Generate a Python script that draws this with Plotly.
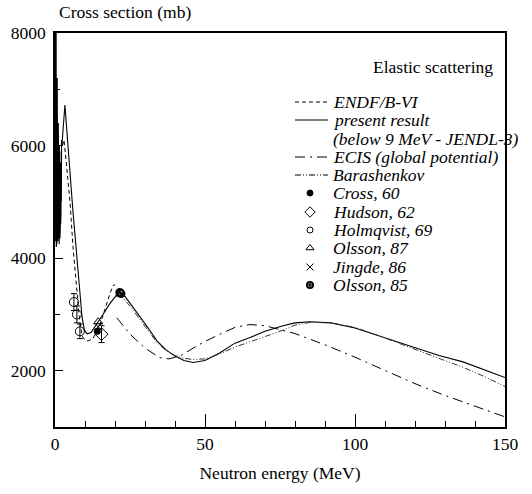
import plotly.graph_objects as go

# ---------------- data ----------------
# present result (JENDL-3 resonance region + smooth part)
res_E = [0.02, 0.08, 0.14, 0.2, 0.26, 0.32, 0.38, 0.44, 0.5, 0.56, 0.62, 0.68, 0.74, 0.8,
         0.86, 0.92, 0.98, 1.04, 1.1, 1.16, 1.22, 1.28, 1.34, 1.4, 1.46, 1.52, 1.58, 1.64,
         1.7, 1.76, 1.82, 1.88, 1.94, 2.0, 2.06, 2.12, 2.18, 2.24]
res_S = [8000, 4400, 8000, 4300, 7900, 4500, 8000, 4200, 7800, 4400, 7600, 4300, 7200, 4500,
         6900, 4300, 6600, 4400, 6400, 4300, 6200, 4500, 6100, 4250, 6000, 4400, 5900, 4350,
         5800, 4500, 5700, 4600, 5600, 4800, 5900, 5000, 6100, 5600]
pr_E = [2.3, 3.3, 5.0, 6.0, 7.0, 8.0, 9.0, 9.8, 10.7, 12, 14, 16, 18, 20, 21.7, 23, 25, 28,
        31, 34, 37, 40, 43, 46, 50, 55, 60, 65, 70, 76, 80, 85, 92, 100, 108, 114, 120,
        128, 136, 143, 150]
pr_S = [6000, 6720, 5440, 4820, 4200, 3580, 2960, 2720, 2655, 2680, 2830, 3000, 3170, 3310,
        3380, 3340, 3200, 2990, 2760, 2530, 2370, 2260, 2180, 2145, 2180, 2320, 2490, 2590,
        2700, 2800, 2850, 2870, 2850, 2760, 2620, 2510, 2410, 2270, 2157, 2020, 1880]

endf_E = [2.5, 3.0, 4.3, 5.0, 6.0, 7.0, 8.0, 9.0, 10.0, 11.0, 12.5, 14.0, 15.5, 17.0, 18.5,
          19.5, 20.0]
endf_S = [6000, 6100, 5400, 5000, 4200, 3600, 3000, 2620, 2540, 2530, 2560, 2700, 2900, 3150,
          3400, 3520, 3530]

ecis_E = [20.6, 25, 30, 35, 38, 42, 46, 50, 55, 60, 65, 70, 80, 90, 100, 110, 120, 130, 140, 150]
ecis_S = [2940, 2650, 2400, 2230, 2210, 2270, 2400, 2520, 2650, 2770, 2820, 2800, 2660, 2460,
          2240, 2000, 1770, 1560, 1370, 1180]

bar_E = [20, 22, 25, 28, 31, 34, 37, 40, 43, 46, 50, 55, 60, 65, 70, 76, 80, 85, 92, 100, 108,
         114, 120, 128, 136, 143, 150]
bar_S = [3330, 3330, 3150, 2930, 2700, 2500, 2360, 2270, 2220, 2200, 2210, 2300, 2420, 2510,
         2600, 2720, 2810, 2860, 2850, 2770, 2620, 2500, 2390, 2230, 2060, 1900, 1720]

cross_E, cross_S = [14.1], [2700]
hudson_E, hudson_S, hudson_err = [15.5], [2650], [150]
holm_E, holm_S, holm_err = [6.3, 7.3, 8.3], [3220, 3000, 2700], [150, 150, 130]
ols87_E, ols87_S = [14.4], [2870]
jing_E, jing_S = [14.4], [2780]
ols85_E, ols85_S = [21.6, 22.0], [3390, 3370]

x_ticks = [0, 50, 100, 150]
y_ticks = [2000, 4000, 6000, 8000]

legend_labels = ["ENDF/B-VI", "present result", "(below 9 MeV - JENDL-3)",
                 "ECIS (global potential)", "Barashenkov", "Cross, 60", "Hudson, 62",
                 "Holmqvist, 69", "Olsson, 87", "Jingde, 86", "Olsson, 85"]

# ---------------- figure ----------------
FONT = "Liberation Serif, Times New Roman, Times, serif"
W, H = 532, 494
ML, MR, MT, MB = 55, 27, 33, 67
PW, PH = W - ML - MR, H - MT - MB


def px2paper(px, py):
    return (px - ML) / PW, (H - MB - py) / PH


fig = go.Figure()
fig.add_trace(go.Scatter(x=res_E + pr_E, y=res_S + pr_S, mode="lines",
                         line=dict(color="black", width=1.1)))
fig.add_trace(go.Scatter(x=endf_E, y=endf_S, mode="lines",
                         line=dict(color="black", width=1, dash="4px,3px")))
fig.add_trace(go.Scatter(x=ecis_E, y=ecis_S, mode="lines",
                         line=dict(color="black", width=1, dash="10px,5px,2px,5px")))
fig.add_trace(go.Scatter(x=bar_E, y=bar_S, mode="lines",
                         line=dict(color="#333", width=1, dash="6px,2px,1px,2px,1px,2px")))

err = dict(type="data", thickness=1, width=3, color="black")
fig.add_trace(go.Scatter(x=holm_E, y=holm_S, mode="markers",
                         error_y=dict(array=holm_err, **err),
                         marker=dict(symbol="circle-open", size=9, color="black",
                                     line=dict(width=1))))
fig.add_trace(go.Scatter(x=hudson_E, y=hudson_S, mode="markers",
                         error_y=dict(array=hudson_err, **err),
                         marker=dict(symbol="diamond-open", size=10, color="black",
                                     line=dict(width=1))))
fig.add_trace(go.Scatter(x=ols87_E, y=ols87_S, mode="markers",
                         marker=dict(symbol="triangle-up-open", size=8, color="black",
                                     line=dict(width=1))))
fig.add_trace(go.Scatter(x=jing_E, y=jing_S, mode="markers",
                         marker=dict(symbol="x-thin-open", size=8, color="black",
                                     line=dict(width=1))))
fig.add_trace(go.Scatter(x=cross_E, y=cross_S, mode="markers",
                         marker=dict(symbol="circle", size=7, color="black")))
fig.add_trace(go.Scatter(x=ols85_E, y=ols85_S, mode="markers",
                         marker=dict(symbol="circle-open-dot", size=7, color="black",
                                     line=dict(width=2))))

# ---------------- manual legend ----------------
rows_py = [102, 120, 139, 157, 175, 193, 212, 230, 248, 267, 285]
annotations = []
shapes = []
for lab, py in zip(legend_labels, rows_py):
    xp, yp = px2paper(331, py)
    annotations.append(dict(text=lab, x=xp, y=yp, xref="paper", yref="paper",
                            xanchor="left", yanchor="middle", showarrow=False,
                            font=dict(family=FONT, size=17.5, style="italic", color="black")))
line_styles = [(rows_py[0], "4px,3px"), (rows_py[1], "solid"),
               (rows_py[3], "10px,5px,2px,5px"), (rows_py[4], "6px,2px,1px,2px,1px,2px")]
for py, dash in line_styles:
    x0, y0 = px2paper(295, py)
    x1, _ = px2paper(328, py)
    shapes.append(dict(type="line", xref="paper", yref="paper", x0=x0, x1=x1, y0=y0, y1=y0,
                       line=dict(color="black", width=1, dash=dash)))

mk_x, _ = px2paper(310, 0)
legend_markers = [("circle", 6, 1), ("diamond-open", 8, 1), ("circle-open", 6, 1),
                  ("triangle-up-open", 7, 1), ("x-thin-open", 7, 1), ("circle-open-dot", 6, 2)]
for (sym, sz, lw), py in zip(legend_markers, rows_py[5:]):
    _, yp = px2paper(0, py)
    fig.add_trace(go.Scatter(x=[mk_x], y=[yp], xaxis="x2", yaxis="y2", mode="markers",
                             marker=dict(symbol=sym, size=sz, color="black",
                                         line=dict(width=lw, color="black"))))

# titles
tx, ty = px2paper(57, 24)
annotations.append(dict(text="Cross section (mb)", x=tx, y=ty, xref="paper", yref="paper",
                        xanchor="left", yanchor="bottom", showarrow=False,
                        font=dict(family=FONT, size=17.5, color="black")))
ex, ey = px2paper(495, 67)
annotations.append(dict(text="Elastic scattering", x=ex, y=ey, xref="paper", yref="paper",
                        xanchor="right", yanchor="middle", showarrow=False,
                        font=dict(family=FONT, size=17.5, color="black")))

axis_common = dict(showgrid=False, zeroline=False, showline=True, linecolor="black",
                   linewidth=1.5, mirror=True, ticks="inside", tickcolor="black",
                   tickfont=dict(family=FONT, size=17.5, color="black"))
fig.update_layout(
    width=W, height=H, margin=dict(l=ML, r=MR, t=MT, b=MB),
    paper_bgcolor="white", plot_bgcolor="white", showlegend=False,
    font=dict(family=FONT, color="black"),
    xaxis=dict(range=[0, 150], tickvals=x_ticks, ticklen=13, tickwidth=1,
               minor=dict(ticks="inside", dtick=10, tick0=0, ticklen=6, tickcolor="black"),
               title=dict(text="Neutron energy (MeV)", standoff=14,
                          font=dict(family=FONT, size=17.5, color="black")),
               **axis_common),
    yaxis=dict(range=[1000, 8000], tickvals=y_ticks, ticklen=8, tickwidth=1,
               minor=dict(ticks="inside", dtick=1000, tick0=0, ticklen=5, tickcolor="black"),
               ticklabelstandoff=4,
               **axis_common),
    xaxis2=dict(range=[0, 1], overlaying="x", visible=False, domain=[0, 1]),
    yaxis2=dict(range=[0, 1], overlaying="y", visible=False, domain=[0, 1]),
    annotations=annotations, shapes=shapes,
)

fig.write_html("out.html")
